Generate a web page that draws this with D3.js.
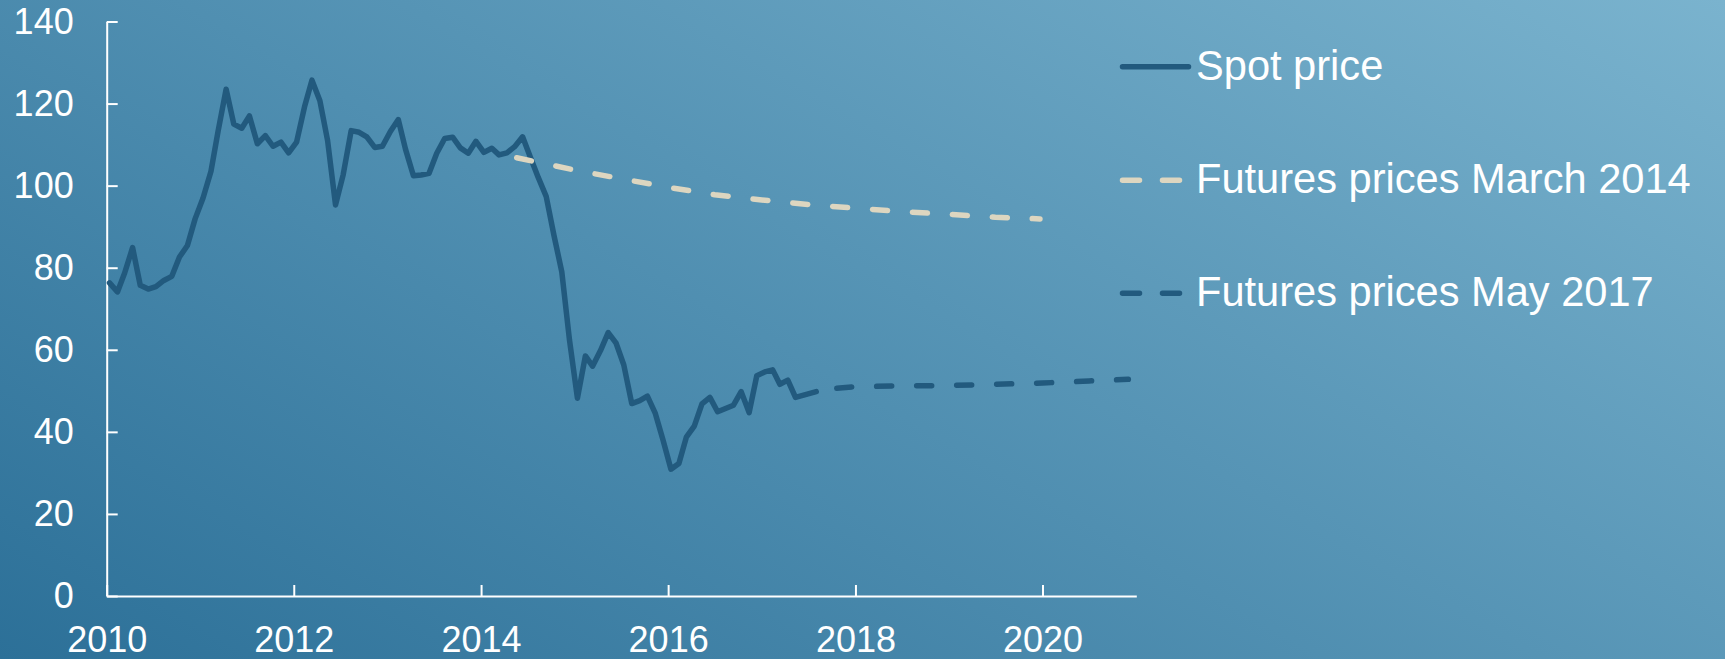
<!DOCTYPE html>
<html>
<head>
<meta charset="utf-8">
<script src="https://cdn.jsdelivr.net/npm/d3@7"></script>
<style>
html,body{margin:0;padding:0;overflow:hidden;background:#4a8db0;}
svg{display:block;}
text{font-family:"Liberation Sans",Arial,sans-serif;}
</style>
</head>
<body>
<svg id="chart" width="1725" height="659"></svg>
<script>
// ---------- DATA ----------
// Spot price, monthly Jan 2010 – May 2017
const spotValues = [
  76.3, 74.1, 78.7, 84.9, 75.7, 74.8, 75.4, 76.9, 77.9, 82.6, 85.4, 91.9,
  97.0, 103.5, 113.4, 123.5, 115.0, 114.0, 117.0, 110.2, 112.2, 109.6, 110.6, 108.0,
  110.6, 119.2, 125.7, 120.7, 111.0, 95.3, 102.7, 113.4, 113.0, 111.9, 109.3, 109.6,
  113.2, 116.1, 108.9, 102.4, 102.6, 103.0, 107.9, 111.5, 111.8, 109.2, 107.9, 110.8,
  108.1, 109.1, 107.5, 108.0, 109.5, 111.9, 107.0, 102.0, 97.4, 88.0, 79.0, 62.4,
  48.2, 58.5, 56.0, 59.8, 64.2, 61.6, 56.3, 46.9, 47.6, 48.7, 44.5, 38.0,
  30.9, 32.3, 38.7, 41.4, 46.8, 48.4, 44.9, 45.7, 46.5, 49.8, 44.7, 53.7,
  54.6, 55.1, 51.6, 52.6, 48.4
];
const spotFirstMonth = "2010-01-01";
const spotEndMonth = "2017-06-01";   // exclusive
const spotLastDate = "2017-08-01";   // final (partial-month) observation
const spotLastValue = 49.8;

// Futures curve, March 2014
const futMar14Dates  = ["2014-05-20","2015-01-01","2015-07-01","2016-01-01","2016-07-01","2017-01-01","2017-07-01","2018-01-01","2018-07-01","2019-01-01","2019-07-01","2019-12-22"];
const futMar14Values = [106.8, 103.8, 101.7, 99.6, 97.8, 96.5, 95.4, 94.5, 93.7, 93.0, 92.3, 91.9];

// Futures curve, May 2017
const futMay17Dates  = ["2017-10-20","2018-01-01","2018-07-01","2019-01-01","2019-07-01","2020-01-01","2020-07-01","2020-12-01"];
const futMay17Values = [50.6, 51.0, 51.2, 51.3, 51.6, 51.9, 52.4, 52.8];

const xTickYears = [2010, 2012, 2014, 2016, 2018, 2020];
const yTicks = [0, 20, 40, 60, 80, 100, 120, 140];

const seriesNames = ["Spot price", "Futures prices March 2014", "Futures prices May 2017"];
const seriesColors = ["#225a7e", "#ddd6c0", "#225a7e"];

// ---------- DRAW ----------
const svg = d3.select("#chart");
const W = 1725, H = 659;
const parse = d3.timeParse("%Y-%m-%d");

const defs = svg.append("defs");
const grad = defs.append("linearGradient").attr("id", "bg")
  .attr("gradientUnits", "userSpaceOnUse")
  .attr("x1", 0).attr("y1", 659).attr("x2", 711).attr("y2", -581);
grad.append("stop").attr("offset", "0%").attr("stop-color", "#2c7098");
grad.append("stop").attr("offset", "100%").attr("stop-color", "#7ab3ce");
svg.append("rect").attr("width", W).attr("height", H).attr("fill", "url(#bg)");

const x = d3.scaleTime().domain([new Date(2010, 0, 1), new Date(2021, 0, 1)]).range([106.7, 1136.3]);
const y = d3.scaleLinear().domain([0, 140]).range([596, 21.5]);

// build series (monthly observations plotted around the 12th of each month)
const spotDates = d3.timeMonth.range(parse(spotFirstMonth), parse(spotEndMonth))
  .map(d => new Date(d.getFullYear(), d.getMonth(), 12));
const spot = spotValues.map((v, i) => ({date: spotDates[i], value: v}));
spot.push({date: parse(spotLastDate), value: spotLastValue});
const fut14 = futMar14Dates.map((d, i) => ({date: parse(d), value: futMar14Values[i]}));
const fut17 = futMay17Dates.map((d, i) => ({date: parse(d), value: futMay17Values[i]}));

const line = d3.line().defined(d => d.date != null).x(d => x(d.date)).y(d => y(d.value));

// axes
const xAxis = d3.axisBottom(x)
  .tickValues(xTickYears.map(yr => new Date(yr, 0, 1)))
  .tickFormat(d3.timeFormat("%Y"))
  .tickSizeInner(-11).tickSizeOuter(0).tickPadding(30.5);
const yAxis = d3.axisLeft(y)
  .tickValues(yTicks)
  .tickSizeInner(-11).tickSizeOuter(0).tickPadding(33);

const gx = svg.append("g").attr("transform", "translate(0,596)").call(xAxis);
const gy = svg.append("g").attr("transform", "translate(106.7,0)").call(yAxis);
[gx, gy].forEach(g => {
  g.attr("font-family", null).attr("font-size", null);
  g.selectAll("path.domain").attr("stroke", "#ffffff").attr("stroke-width", 2);
  g.selectAll(".tick line").attr("stroke", "#ffffff").attr("stroke-width", 2);
  g.selectAll(".tick text").attr("fill", "#ffffff").style("font-size", "36px")
    .style("font-family", "'Liberation Sans', Arial, sans-serif");
});

// lines
svg.append("path").datum(spot).attr("d", line)
  .attr("fill", "none").attr("stroke", seriesColors[0]).attr("stroke-width", 5.5)
  .attr("stroke-linejoin", "round").attr("stroke-linecap", "round");
svg.append("path").datum(fut17).attr("d", line)
  .attr("fill", "none").attr("stroke", seriesColors[2]).attr("stroke-width", 5.5)
  .attr("stroke-dasharray", "15 25").attr("stroke-linecap", "round");
svg.append("path").datum(fut14).attr("d", line)
  .attr("fill", "none").attr("stroke", seriesColors[1]).attr("stroke-width", 5.5)
  .attr("stroke-dasharray", "15 25").attr("stroke-linecap", "round");

// legend
const legendRowsY = [66.7, 180.3, 293.3];
const legendDash = [null, "17 23", "17 23"];
const lg = svg.append("g");
seriesNames.forEach((name, i) => {
  const ly = legendRowsY[i];
  lg.append("line").attr("x1", 1122.5).attr("x2", 1188.5).attr("y1", ly).attr("y2", ly)
    .attr("stroke", seriesColors[i]).attr("stroke-width", 5.5).attr("stroke-linecap", "round")
    .attr("stroke-dasharray", legendDash[i]);
  lg.append("text").attr("x", 1196).attr("y", ly + 12.8)
    .attr("fill", "#ffffff").style("font-size", "41.6px").text(name);
});
</script>
</body>
</html>
